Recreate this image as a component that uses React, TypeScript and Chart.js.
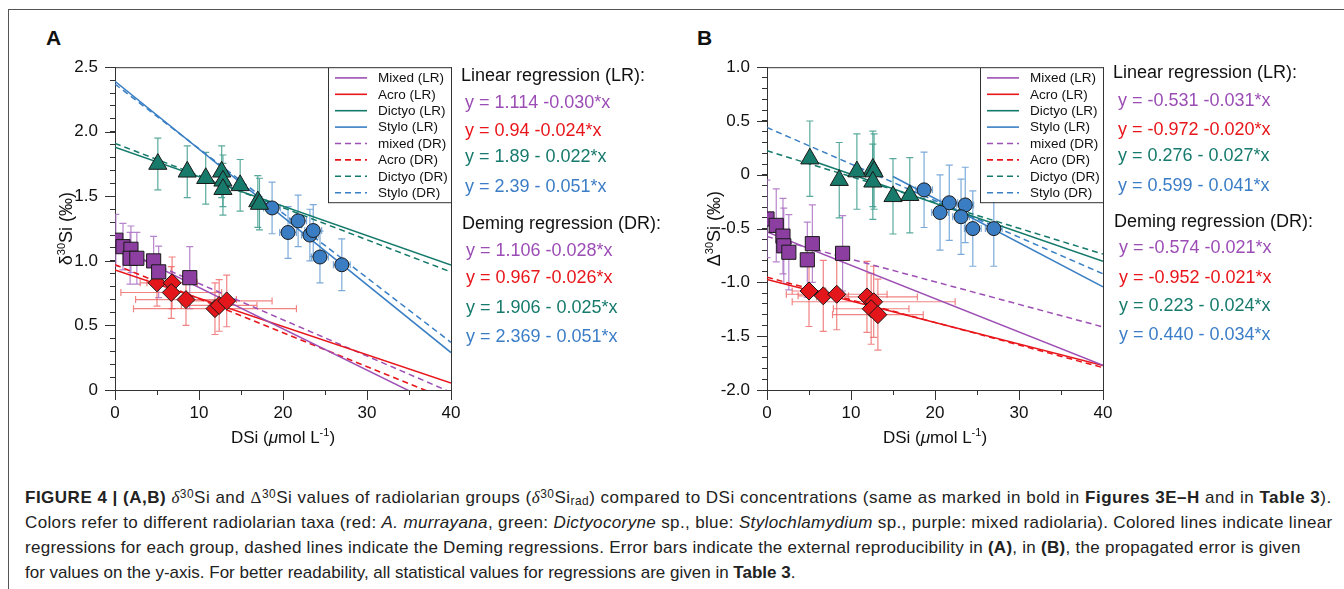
import React, { useEffect, useRef } from "react";
import { Chart, registerables } from "chart.js";
Chart.register(...registerables);

const FONT = "'Liberation Sans', Arial, Helvetica, sans-serif";

// ---------- Panel A (delta30Si) ----------
const mixedA_x = [0.1, 0.95, 1.9, 1.8, 2.6, 4.6, 5.2, 8.9];
const mixedA_y = [1.16, 1.11, 1.09, 1.02, 1.02, 1.0, 0.915, 0.87];
const mixedA_ex = [0.4, 0.4, 0.4, 0.4, 0.4, 0.4, 0.4, 0.4];
const mixedA_ey = [0.2, 0.18, 0.18, 0.2, 0.2, 0.19, 0.2, 0.24];

const acroA_x = [5.0, 6.8, 6.7, 8.45, 11.9, 12.4, 13.3];
const acroA_y = [0.83, 0.83, 0.755, 0.7, 0.63, 0.655, 0.69];
const acroA_ex = [2, 3, 6, 6, 9.7, 4.5, 5.4];
const acroA_ey = [0.18, 0.2, 0.2, 0.2, 0.2, 0.2, 0.2];

const dictyoA_x = [5.1, 8.6, 10.8, 12.7, 12.85, 12.85, 14.9, 17.0, 17.2];
const dictyoA_y = [1.75, 1.69, 1.64, 1.69, 1.62, 1.555, 1.585, 1.46, 1.44];
const dictyoA_ex = [0.3, 0.3, 0.3, 0.3, 0.3, 0.3, 0.3, 0.3, 0.3];
const dictyoA_ey = [0.2, 0.2, 0.2, 0.2, 0.2, 0.2, 0.2, 0.2, 0.2];

const styloA_x = [18.7, 21.8, 20.6, 23.2, 23.6, 24.4, 27.0];
const styloA_y = [1.41, 1.31, 1.22, 1.2, 1.235, 1.03, 0.97];
const styloA_ex = [1.0, 1.0, 1.0, 1.0, 1.0, 1.0, 1.0];
const styloA_ey = [0.2, 0.2, 0.2, 0.2, 0.2, 0.2, 0.2];

// regression lines: Mixed LR, Acro LR, Dictyo LR, Stylo LR, mixed DR, Acro DR, Dictyo DR, Stylo DR
const linesA_a = [1.114, 0.93, 1.88, 2.39, 1.106, 0.97, 1.91, 2.369];
const linesA_b = [-0.032, -0.0219, -0.0228, -0.0525, -0.0281, -0.0263, -0.0249, -0.05];
const linesA_x0 = [0, 0, 0, 0, 0, 0, 0, 0];
const linesA_x1 = [40, 40, 40, 40, 40, 40, 40, 40];

// ---------- Panel B (Delta30Si) ----------
const mixedB_x = [0.0, 1.1, 1.9, 2.0, 2.6, 5.4, 4.8, 9.0];
const mixedB_y = [-0.41, -0.47, -0.57, -0.66, -0.72, -0.64, -0.79, -0.73];
const mixedB_ex = [0.4, 0.4, 0.4, 0.4, 0.4, 0.4, 0.4, 0.4];
const mixedB_ey = [0.36, 0.34, 0.35, 0.35, 0.35, 0.36, 0.35, 0.35];

const acroB_x = [5.0, 6.7, 8.3, 11.9, 12.7, 12.4, 13.2];
const acroB_y = [-1.08, -1.125, -1.11, -1.135, -1.18, -1.245, -1.3];
const acroB_ex = [2, 3, 6, 6, 9.7, 4.5, 5.4];
const acroB_ey = [0.33, 0.33, 0.33, 0.33, 0.33, 0.33, 0.33];

const dictyoB_x = [5.1, 8.6, 10.7, 12.6, 12.75, 12.6, 15.0, 17.0];
const dictyoB_y = [0.15, -0.05, 0.03, 0.055, 0.03, -0.065, -0.2, -0.19];
const dictyoB_ex = [0.3, 0.3, 0.3, 0.3, 0.3, 0.3, 0.3, 0.3];
const dictyoB_ey = [0.35, 0.35, 0.35, 0.35, 0.35, 0.35, 0.35, 0.35];

const styloB_x = [18.7, 21.7, 20.6, 23.6, 23.1, 24.5, 27.0];
const styloB_y = [-0.14, -0.26, -0.35, -0.28, -0.39, -0.5, -0.5];
const styloB_ex = [1.0, 1.0, 1.0, 1.0, 1.0, 1.0, 1.0];
const styloB_ey = [0.35, 0.35, 0.35, 0.35, 0.35, 0.35, 0.35];

const linesB_a = [-0.531, -0.972, 0.276, 0.599, -0.574, -0.952, 0.223, 0.44];
const linesB_b = [-0.031, -0.02, -0.027, -0.041, -0.021, -0.021, -0.024, -0.034];
const linesB_x0 = [0, 0, 5.1, 15, 0, 0, 0, 0];
const linesB_x1 = [40, 40, 40, 40, 40, 40, 40, 40];

// ---------- Text ----------
const legendLabels = ["Mixed (LR)", "Acro (LR)", "Dictyo (LR)", "Stylo (LR)", "mixed (DR)", "Acro (DR)", "Dictyo (DR)", "Stylo (DR)"];
const eqA_LR = ["y = 1.114 -0.030*x", "y = 0.94 -0.024*x", "y = 1.89 - 0.022*x", "y = 2.39 - 0.051*x"];
const eqA_DR = ["y = 1.106 -0.028*x", "y = 0.967 -0.026*x", "y = 1.906 - 0.025*x", "y = 2.369 - 0.051*x"];
const eqB_LR = ["y = -0.531 -0.031*x", "y = -0.972 -0.020*x", "y = 0.276 - 0.027*x", "y = 0.599 - 0.041*x"];
const eqB_DR = ["y = -0.574 -0.021*x", "y = -0.952 -0.021*x", "y = 0.223 - 0.024*x", "y = 0.440 - 0.034*x"];

const xTicksMajor = [0, 10, 20, 30, 40];

// colours
const C_PURPLE = "#9d4fb4";
const C_RED = "#e8161b";
const C_TEAL = "#147a6b";
const C_BLUE = "#3a7fc4";
const lineColors = [C_PURPLE, C_RED, C_TEAL, C_BLUE, C_PURPLE, C_RED, C_TEAL, C_BLUE];
const eqColors = ["#9b4db5", "#e8161b", "#167a6c", "#3b7dc6"];

function pts(xs: number[], ys: number[]) {
  return xs.map((x, i) => ({ x, y: ys[i] }));
}

const errorBarsPlugin = {
  id: "errorBars",
  beforeDatasetsDraw(chart: any) {
    const { ctx, chartArea } = chart;
    const xs = chart.scales.x;
    const ys = chart.scales.y;
    ctx.save();
    ctx.beginPath();
    ctx.rect(chartArea.left, chartArea.top, chartArea.width, chartArea.height);
    ctx.clip();
    chart.data.datasets.forEach((ds: any) => {
      if (!ds.errY) return;
      ctx.strokeStyle = ds.errColor;
      ctx.lineWidth = 1.2;
      ds.data.forEach((p: any, i: number) => {
        const px = xs.getPixelForValue(p.x);
        const py = ys.getPixelForValue(p.y);
        const ey = ds.errY[i];
        const ex = ds.errX[i];
        ctx.beginPath();
        if (ey) {
          const y1 = ys.getPixelForValue(p.y + ey);
          const y2 = ys.getPixelForValue(p.y - ey);
          ctx.moveTo(px, y1); ctx.lineTo(px, y2);
          ctx.moveTo(px - 3.5, y1); ctx.lineTo(px + 3.5, y1);
          ctx.moveTo(px - 3.5, y2); ctx.lineTo(px + 3.5, y2);
        }
        if (ex) {
          const x1 = xs.getPixelForValue(p.x - ex);
          const x2 = xs.getPixelForValue(p.x + ex);
          ctx.moveTo(x1, py); ctx.lineTo(x2, py);
          ctx.moveTo(x1, py - 3.5); ctx.lineTo(x1, py + 3.5);
          ctx.moveTo(x2, py - 3.5); ctx.lineTo(x2, py + 3.5);
        }
        ctx.stroke();
      });
    });
    ctx.restore();
  },
};

function drawPieces(ctx: any, pieces: any[], cx: number, cy: number) {
  let w = 0;
  pieces.forEach((p) => { ctx.font = p.f; w += ctx.measureText(p.t).width; });
  let x = cx - w / 2;
  ctx.textBaseline = "alphabetic";
  ctx.textAlign = "left";
  pieces.forEach((p) => {
    ctx.font = p.f;
    ctx.fillText(p.t, x, cy + (p.dy || 0));
    x += ctx.measureText(p.t).width;
  });
}

const decorPlugin = {
  id: "decor",
  afterDraw(chart: any, _args: any, opts: any) {
    const { ctx, chartArea } = chart;
    const xs = chart.scales.x;
    const ys = chart.scales.y;
    ctx.save();
    // top & right frame
    ctx.strokeStyle = "#333";
    ctx.lineWidth = 1;
    ctx.beginPath();
    ctx.moveTo(chartArea.left, chartArea.top + 0.5);
    ctx.lineTo(chartArea.right + 0.5, chartArea.top + 0.5);
    ctx.lineTo(chartArea.right + 0.5, chartArea.bottom);
    ctx.stroke();
    // major ticks (longer)
    ctx.beginPath();
    xTicksMajor.forEach((v) => {
      const px = Math.round(xs.getPixelForValue(v)) + 0.5;
      ctx.moveTo(px, chartArea.bottom);
      ctx.lineTo(px, chartArea.bottom + 10);
    });
    opts.yMajors.forEach((v: number) => {
      const py = Math.round(ys.getPixelForValue(v)) + 0.5;
      ctx.moveTo(chartArea.left - 10, py);
      ctx.lineTo(chartArea.left, py);
    });
    ctx.stroke();

    // legend box
    const bw = 123, bh = 135;
    const bx = chartArea.right - bw;
    const by = chartArea.top;
    ctx.fillStyle = "#fff";
    ctx.fillRect(bx, by, bw, bh);
    ctx.strokeStyle = "#333";
    ctx.strokeRect(bx + 0.5, by + 0.5, bw, bh);
    legendLabels.forEach((lab, i) => {
      const y = by + 10.7 + 16.4 * i;
      ctx.strokeStyle = lineColors[i];
      ctx.lineWidth = 1.6;
      ctx.setLineDash(i >= 4 ? [6, 4] : []);
      ctx.beginPath();
      ctx.moveTo(bx + 7, y);
      ctx.lineTo(bx + 39, y);
      ctx.stroke();
      ctx.setLineDash([]);
      ctx.fillStyle = "#111";
      ctx.font = `13.5px ${FONT}`;
      ctx.textBaseline = "middle";
      ctx.textAlign = "left";
      ctx.fillText(lab, bx + 50, y + 0.5);
    });

    // axis titles
    ctx.fillStyle = "#111";
    const f = `17px ${FONT}`;
    const fs = `11px ${FONT}`;
    drawPieces(ctx, [
      { t: "DSi (", f },
      { t: "\u03bc", f: `italic 17px ${FONT}` },
      { t: "mol L", f },
      { t: "-1", f: fs, dy: -7 },
      { t: ")", f },
    ], (chartArea.left + chartArea.right) / 2, chartArea.bottom + 53);

    ctx.translate(opts.yTitleX, (chartArea.top + chartArea.bottom) / 2);
    ctx.rotate(-Math.PI / 2);
    const f2 = `18px ${FONT}`;
    drawPieces(ctx, [
      { t: opts.sym, f: f2 },
      { t: "30", f: `11px ${FONT}`, dy: -7 },
      { t: "Si (\u2030)", f: f2 },
    ], 0, 6);
    ctx.restore();
  },
};

function makeConfig(p: any) {
  const scatter = (label: string, xs: number[], ys: number[], ex: number[], ey: number[], style: string, r: number, fill: string, errColor: string) => ({
    type: "scatter",
    label,
    data: pts(xs, ys),
    pointStyle: style,
    pointRadius: r,
    pointBackgroundColor: fill,
    pointBorderColor: "#1a1a1a",
    pointBorderWidth: 1,
    showLine: false,
    errX: ex,
    errY: ey,
    errColor,
  });
  const lines = p.la.map((a: number, i: number) => ({
    type: "scatter",
    label: legendLabels[i],
    data: [
      { x: p.lx0[i], y: a + p.lb[i] * p.lx0[i] },
      { x: p.lx1[i], y: a + p.lb[i] * p.lx1[i] },
    ],
    showLine: true,
    borderColor: lineColors[i],
    borderWidth: 1.5,
    borderDash: i >= 4 ? [6, 4] : [],
    pointRadius: 0,
    fill: false,
  }));
  const datasets = [
    scatter("Mixed", p.mx, p.my, p.mex, p.mey, "rect", 10, "#8c3fa0", "rgba(170,110,195,0.85)"),
    scatter("Acro", p.ax, p.ay, p.aex, p.aey, "rectRot", 9, "#e3161c", "rgba(236,90,90,0.75)"),
    scatter("Dictyo", p.dx, p.dy, p.dex, p.dey, "triangle", 10.5, "#187a6a", "rgba(60,155,140,0.85)"),
    scatter("Stylo", p.sx, p.sy, p.sex, p.sey, "circle", 7, "#3a7dc2", "rgba(100,155,210,0.85)"),
    ...lines,
  ];
  const yMajors: number[] = [];
  for (let v = p.ymin; v <= p.ymax + 1e-9; v += 0.5) yMajors.push(Math.round(v * 10) / 10);
  return {
    type: "scatter",
    data: { datasets },
    plugins: [errorBarsPlugin, decorPlugin],
    options: {
      responsive: false,
      animation: false,
      events: [],
      layout: { padding: { top: 17, right: 19, left: 0, bottom: 0 } },
      plugins: {
        legend: { display: false },
        tooltip: { enabled: false },
        decor: { yMajors, sym: p.sym, yTitleX: p.yTitleX },
      },
      scales: {
        x: {
          type: "linear",
          min: 0,
          max: 40,
          ticks: {
            stepSize: 5,
            autoSkip: false,
            maxRotation: 0,
            color: "#111",
            padding: 8,
            font: { size: 17, family: FONT },
            callback: (v: number) => (Math.abs(v % 10) < 1e-9 ? String(v) : ""),
          },
          grid: { drawOnChartArea: false, drawTicks: true, tickLength: 5, color: "#333", lineWidth: 1 },
          border: { display: true, color: "#333", width: 1 },
          afterFit: (s: any) => { s.height = 70; },
        },
        y: {
          type: "linear",
          min: p.ymin,
          max: p.ymax,
          ticks: {
            stepSize: 0.1,
            autoSkip: false,
            color: "#111",
            padding: 12,
            font: { size: 17, family: FONT },
            callback: (v: number) => {
              const d = v * 2;
              if (Math.abs(d - Math.round(d)) > 1e-6) return "";
              if (Math.abs(v) < 1e-9) return "0";
              return v.toFixed(1);
            },
          },
          grid: { drawOnChartArea: false, drawTicks: true, tickLength: 5, color: "#333", lineWidth: 1 },
          border: { display: true, color: "#333", width: 1 },
          afterFit: (s: any) => { s.width = 75; },
        },
      },
    },
  };
}

const panelA = {
  mx: mixedA_x, my: mixedA_y, mex: mixedA_ex, mey: mixedA_ey,
  ax: acroA_x, ay: acroA_y, aex: acroA_ex, aey: acroA_ey,
  dx: dictyoA_x, dy: dictyoA_y, dex: dictyoA_ex, dey: dictyoA_ey,
  sx: styloA_x, sy: styloA_y, sex: styloA_ex, sey: styloA_ey,
  la: linesA_a, lb: linesA_b, lx0: linesA_x0, lx1: linesA_x1,
  ymin: 0, ymax: 2.5, sym: "\u03b4", yTitleX: 26,
};
const panelB = {
  mx: mixedB_x, my: mixedB_y, mex: mixedB_ex, mey: mixedB_ey,
  ax: acroB_x, ay: acroB_y, aex: acroB_ex, aey: acroB_ey,
  dx: dictyoB_x, dy: dictyoB_y, dex: dictyoB_ex, dey: dictyoB_ey,
  sx: styloB_x, sy: styloB_y, sex: styloB_ex, sey: styloB_ey,
  la: linesB_a, lb: linesB_b, lx0: linesB_x0, lx1: linesB_x1,
  ymin: -2, ymax: 1, sym: "\u0394", yTitleX: 22,
};

function ChartCanvas({ panel, left }: { panel: any; left: number }) {
  const ref = useRef<HTMLCanvasElement>(null);
  useEffect(() => {
    if (!ref.current) return;
    const chart = new Chart(ref.current, makeConfig(panel) as any);
    return () => chart.destroy();
  }, []);
  return (
    <canvas
      ref={ref}
      width={430}
      height={415}
      style={{ position: "absolute", left, top: 45, width: 430, height: 415 }}
    />
  );
}

function Equations({ left, lrTop, lr, drTop, dr, eqLeft, lrY, drY }: any) {
  const base: any = { position: "absolute", whiteSpace: "nowrap", fontFamily: FONT, fontSize: 18, lineHeight: "20px" };
  return (
    <>
      <div style={{ ...base, left, top: lrTop - 10, color: "#111" }}>Linear regression (LR):</div>
      {lr.map((t: string, i: number) => (
        <div key={"l" + i} style={{ ...base, left: eqLeft, top: lrY[i] - 10, color: eqColors[i] }}>{t}</div>
      ))}
      <div style={{ ...base, left: left + 1, top: drTop - 10, color: "#111" }}>Deming regression (DR):</div>
      {dr.map((t: string, i: number) => (
        <div key={"d" + i} style={{ ...base, left: eqLeft + 1, top: drY[i] - 10, color: eqColors[i] }}>{t}</div>
      ))}
    </>
  );
}

const serifI: any = { fontFamily: "'Liberation Serif', 'DejaVu Serif', serif", fontStyle: "italic" };
const serif: any = { fontFamily: "'Liberation Serif', 'DejaVu Serif', serif" };
const sup: any = { fontSize: "0.7em", verticalAlign: "0.45em", lineHeight: 0 };
const sub: any = { fontSize: "0.7em", verticalAlign: "-0.2em", lineHeight: 0 };

export default function App() {
  const lineStyle = (ls: number): any => ({ whiteSpace: "nowrap", height: 25, lineHeight: "25px", letterSpacing: ls });
  return (
    <div style={{ position: "absolute", left: 0, top: 0, width: 1344, height: 589, overflow: "hidden", background: "#fff", fontFamily: FONT }}>
      <div style={{ position: "absolute", left: 8, top: 9, width: 1340, height: 590, borderLeft: "1.5px solid #555", borderTop: "1.5px solid #555" }} />
      <div style={{ position: "absolute", left: 46, top: 26, fontSize: 21, fontWeight: "bold", color: "#111" }}>A</div>
      <div style={{ position: "absolute", left: 697, top: 26, fontSize: 21, fontWeight: "bold", color: "#111" }}>B</div>
      <ChartCanvas panel={panelA} left={40} />
      <ChartCanvas panel={panelB} left={692} />
      <Equations left={461} lrTop={75} lr={eqA_LR} drTop={223} dr={eqA_DR} eqLeft={465}
        lrY={[101.7, 130, 156, 186]} drY={[250, 277, 307, 336]} />
      <Equations left={1113} lrTop={72} lr={eqB_LR} drTop={221} dr={eqB_DR} eqLeft={1118}
        lrY={[100, 129.3, 155, 185]} drY={[247.3, 276.7, 305, 334]} />
      <div style={{ position: "absolute", left: 25, top: 485, fontSize: 17, color: "#222" }}>
        <div style={lineStyle(0.5)}>
          <b>FIGURE 4 | (A,B)</b> <span style={serifI}>δ</span><span style={sup}>30</span>Si and <span style={serif}>Δ</span><span style={sup}>30</span>Si values of radiolarian groups (<span style={serifI}>δ</span><span style={sup}>30</span>Si<span style={sub}>rad</span>) compared to DSi concentrations (same as marked in bold in <b>Figures 3E–H</b> and in <b>Table 3</b>).
        </div>
        <div style={lineStyle(0.36)}>
          Colors refer to different radiolarian taxa (red: <i>A. murrayana</i>, green: <i>Dictyocoryne</i> sp., blue: <i>Stylochlamydium</i> sp., purple: mixed radiolaria). Colored lines indicate linear
        </div>
        <div style={lineStyle(0.27)}>
          regressions for each group, dashed lines indicate the Deming regressions. Error bars indicate the external reproducibility in <b>(A)</b>, in <b>(B)</b>, the propagated error is given
        </div>
        <div style={lineStyle(0)}>
          for values on the y-axis. For better readability, all statistical values for regressions are given in <b>Table 3</b>.
        </div>
      </div>
    </div>
  );
}
